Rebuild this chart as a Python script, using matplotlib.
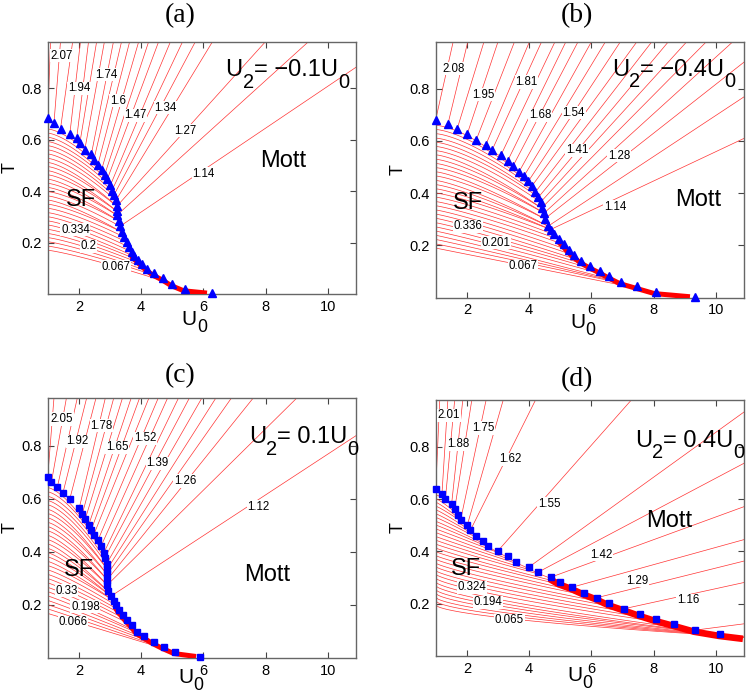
import numpy as np
import matplotlib
matplotlib.use("Agg")
import matplotlib.pyplot as plt
from matplotlib.transforms import offset_copy

plt.rcParams['font.family'] = ['Liberation Sans', 'DejaVu Sans']

XMAX = 10.9
TMAX = 0.98

# ---------------- (a)  U2 = -0.1 U0 ----------------
a_bnd_u = [1.0, 1.2, 1.41, 1.71, 1.93, 2.03, 2.19, 2.40, 2.48, 2.61, 2.73, 2.83, 2.91, 3.01, 3.06,
           3.12, 3.19, 3.22, 3.22, 3.22, 3.28, 3.32, 3.37, 3.44, 3.53, 3.60, 3.69, 3.76, 3.91, 4.03,
           4.19, 4.41, 4.71, 5.00, 5.40, 6.29]
a_bnd_t = [0.684, 0.665, 0.642, 0.622, 0.605, 0.586, 0.561, 0.542, 0.521, 0.502, 0.483, 0.464, 0.445,
           0.422, 0.402, 0.383, 0.364, 0.341, 0.322, 0.306, 0.284, 0.263, 0.241, 0.222, 0.202, 0.183,
           0.164, 0.147, 0.131, 0.116, 0.099, 0.080, 0.061, 0.039, 0.019, 0.003]
a_ray_from = [0, 1, 2, 3, 4, 5, 6, 7, 8, 9, 10, 11, 12, 13, 14, 15, 16, 17, 19, 21]
a_ray_top_u = [1.09, 1.41, 1.80, 2.05, 2.31, 2.57, 2.82, 3.11, 3.37, 3.63, 3.92, 4.24, 4.56, 4.94,
               5.33, 5.74, 6.29, 7.99, 9.37]
a_ray_side_t = [0.881]
a_sf_t0 = [0.641, 0.625, 0.609, 0.592, 0.576, 0.560, 0.544, 0.527, 0.511, 0.495, 0.479, 0.463, 0.446,
           0.430, 0.414, 0.398, 0.381, 0.365, 0.349, 0.333, 0.316, 0.300, 0.284, 0.268, 0.251, 0.235,
           0.219, 0.203, 0.186, 0.170]
a_sf_to = [7, 9, 11, 12, 13, 14, 15, 16, 17, 17, 18, 18, 19, 19, 20, 20, 21, 22, 22, 23, 24, 25, 26,
           27, 28, 29, 30, 31, 32, 33]
a_tail = (6.15, 0.010)
a_band = (26, 35)
a_lab_txt = ['2.07', '1.94', '1.74', '1.6', '1.47', '1.34', '1.27', '1.14', '0.334', '0.2', '0.067']
a_lab_u = [1.44, 2.0, 2.89, 3.25, 3.82, 4.78, 5.42, 6.01, 1.89, 2.30, 3.18]
a_lab_t = [0.925, 0.80, 0.852, 0.751, 0.695, 0.723, 0.635, 0.467, 0.25, 0.186, 0.106]

# ---------------- (b)  U2 = -0.4 U0 ----------------
b_bnd_u = [1.0, 1.39, 1.69, 2.01, 2.30, 2.60, 2.81, 3.09, 3.31, 3.49, 3.68, 3.83, 3.97, 4.08, 4.19,
           4.30, 4.37, 4.40, 4.48, 4.50, 4.61, 4.69, 4.79, 4.95, 5.11, 5.27, 5.45, 5.68, 5.96, 6.28,
           6.57, 6.95, 7.45, 8.06, 9.33]
b_bnd_t = [0.682, 0.664, 0.647, 0.626, 0.604, 0.583, 0.565, 0.545, 0.524, 0.506, 0.483, 0.465, 0.445,
           0.426, 0.403, 0.385, 0.366, 0.343, 0.324, 0.302, 0.274, 0.261, 0.242, 0.223, 0.204, 0.182,
           0.162, 0.140, 0.121, 0.102, 0.083, 0.060, 0.043, 0.022, 0.003]
b_ray_from = [0, 1, 2, 3, 4, 5, 6, 7, 8, 9, 10, 11, 12, 13, 14, 15, 16, 17, 18, 19, 20, 21]
b_ray_top_u = [1.56, 2.03, 2.55, 3.0, 3.53, 4.01, 4.40, 4.83, 5.18, 5.57, 6.0, 6.45, 6.93, 7.46,
               7.94, 8.47, 9.06, 9.69, 10.54]
b_ray_side_t = [0.902, 0.769, 0.61]
b_sf_t0 = [0.660, 0.644, 0.628, 0.611, 0.595, 0.579, 0.563, 0.547, 0.530, 0.514, 0.498, 0.482, 0.466,
           0.449, 0.433, 0.417, 0.401, 0.385, 0.368, 0.352, 0.336, 0.320, 0.304, 0.287, 0.271, 0.255,
           0.239, 0.223, 0.206, 0.190]
b_sf_to = [8, 10, 12, 13, 14, 15, 16, 17, 17, 18, 18, 19, 19, 20, 20, 21, 21, 22, 23, 24, 25, 26, 27,
           28, 29, 30, 31, 32, 32, 33]
b_tail = (9.2, 0.010)
b_band = (23, 34)
b_lab_txt = ['2.08', '1.95', '1.81', '1.68', '1.54', '1.41', '1.28', '1.14', '0.336', '0.201', '0.067']
b_lab_u = [1.59, 2.54, 3.91, 4.35, 5.43, 5.54, 6.89, 6.76, 2.03, 2.94, 3.79]
b_lab_t = [0.876, 0.777, 0.826, 0.699, 0.708, 0.565, 0.544, 0.347, 0.274, 0.21, 0.121]

# ---------------- (c)  U2 = 0.1 U0 ----------------
c_bnd_u = [1.0, 1.12, 1.31, 1.49, 1.71, 2.01, 2.11, 2.20, 2.32, 2.40, 2.48, 2.62, 2.71, 2.80, 2.83,
           2.89, 2.91, 2.91, 2.91, 2.91, 2.94, 3.03, 3.12, 3.20, 3.28, 3.42, 3.55, 3.71, 3.87, 4.08,
           4.40, 4.72, 5.09, 5.89]
c_bnd_t = [0.683, 0.664, 0.645, 0.623, 0.600, 0.564, 0.543, 0.522, 0.503, 0.484, 0.465, 0.446, 0.421,
           0.396, 0.377, 0.355, 0.335, 0.315, 0.295, 0.275, 0.251, 0.233, 0.216, 0.198, 0.181, 0.162,
           0.143, 0.124, 0.099, 0.084, 0.061, 0.042, 0.023, 0.004]
c_ray_from = [0, 1, 2, 3, 4, 5, 6, 7, 8, 9, 10, 11, 12, 13, 14, 15, 16, 17, 18, 19, 21]
c_ray_top_u = [1.2, 1.6, 1.95, 2.25, 2.55, 2.85, 3.12, 3.4, 3.68, 3.95, 4.25, 4.55, 4.85, 5.2, 5.55,
               5.95, 6.4, 6.9, 7.6, 9.0]
c_ray_side_t = [0.838]
c_sf_t0 = [0.642, 0.626, 0.609, 0.593, 0.577, 0.560, 0.544, 0.528, 0.511, 0.495, 0.479, 0.462, 0.446,
           0.430, 0.413, 0.397, 0.381, 0.364, 0.348, 0.332, 0.315, 0.299, 0.283, 0.266, 0.250, 0.234,
           0.217, 0.201, 0.185, 0.168]
c_sf_to = [10, 12, 13, 14, 15, 16, 16, 17, 17, 18, 18, 19, 19, 20, 20, 21, 21, 22, 22, 23, 24, 25, 26,
           27, 28, 29, 30, 31, 32, 32]
c_tail = (5.8, 0.012)
c_band = (23, 33)
c_lab_txt = ['2.05', '1.92', '1.78', '1.65', '1.52', '1.39', '1.26', '1.12', '0.33', '0.198', '0.066']
c_lab_u = [1.45, 1.95, 2.73, 3.23, 4.13, 4.53, 5.41, 7.76, 1.61, 2.21, 1.82]
c_lab_t = [0.901, 0.816, 0.876, 0.794, 0.828, 0.734, 0.667, 0.569, 0.254, 0.194, 0.134]

# ---------------- (d)  U2 = 0.4 U0 ----------------
d_bnd_u = [1.0, 1.20, 1.31, 1.51, 1.61, 1.71, 1.80, 2.01, 2.11, 2.30, 2.51, 2.69, 2.99, 3.31, 3.59,
           3.98, 4.28, 4.69, 4.98, 5.38, 5.77, 6.18, 6.57, 7.06, 7.56, 8.06, 8.65, 9.34, 10.14]
d_bnd_t = [0.638, 0.619, 0.600, 0.581, 0.563, 0.541, 0.521, 0.499, 0.480, 0.459, 0.440, 0.421, 0.401,
           0.381, 0.360, 0.339, 0.320, 0.301, 0.281, 0.263, 0.242, 0.223, 0.201, 0.181, 0.160, 0.141,
           0.122, 0.099, 0.083]
d_ray_from = [0, 1, 2, 3, 4, 6, 7, 8, 12, 15, 16, 17, 19, 21, 23, 27]
d_ray_top_u = [1.13, 1.39, 1.61, 1.87, 2.16, 2.62, 3.17, 4.21, 7.29]
d_ray_side_t = [0.933, 0.737, 0.571, 0.445, 0.363, 0.281, 0.123]
d_sf_t0 = [0.617, 0.602, 0.588, 0.573, 0.559, 0.544, 0.530, 0.515, 0.501, 0.486, 0.472, 0.457, 0.443,
           0.428, 0.413, 0.399, 0.384, 0.370, 0.355, 0.341, 0.326, 0.312, 0.297, 0.282, 0.268, 0.253,
           0.239, 0.224, 0.210, 0.195]
d_sf_to = [3, 5, 6, 7, 8, 9, 10, 11, 12, 13, 14, 15, 16, 17, 18, 19, 20, 21, 22, 23, 24, 25, 26, 27,
           28, 28, 29, 29, 29, 29]
d_tail = (10.9, 0.072)
d_band = (17, 29)
d_lab_txt = ['2.01', '1.88', '1.75', '1.62', '1.55', '1.42', '1.29', '1.16', '0.324', '0.194', '0.065']
d_lab_u = [1.43, 1.71, 2.54, 3.39, 4.64, 6.31, 7.47, 9.10, 2.15, 2.68, 3.37]
d_lab_t = [0.92, 0.809, 0.872, 0.752, 0.583, 0.387, 0.288, 0.213, 0.262, 0.205, 0.136]

LINE_RED = '#ff3333'


def sub_text(ax, x, y, parts, size, drop, transform=None, va='baseline'):
    """Write text with MATLAB-style big, low subscripts; parts = [(str, is_sub), ...]."""
    kw = {} if transform is None else {'transform': transform}
    t = ax.text(x, y, parts[0][0], fontsize=size, ha='left', va=va, zorder=6, **kw)
    prev_sub = parts[0][1]
    for s, is_sub in parts[1:]:
        if is_sub and not prev_sub:
            dy = -drop * size
        elif prev_sub and not is_sub:
            dy = drop * size
        else:
            dy = 0
        fs = size * 0.85 if is_sub else size
        t = ax.annotate(s, xy=(1, 0), xycoords=t, xytext=(0, dy), textcoords='offset points',
                        fontsize=fs, ha='left', va='bottom', zorder=6)
        prev_sub = is_sub
    return t


def draw_panel(fig, rect, bnd_u, bnd_t, ray_from, ray_top_u, ray_side_t, sf_t0, sf_to,
               tail, band, lab_txt, lab_u, lab_t, marker, ms, p_top, p_bot, band_lw):
    ax = fig.add_axes(rect)

    # SF contours: from the U0 = 1 edge into the phase boundary
    ends_u = list(bnd_u) + [tail[0]]
    ends_t = list(bnd_t) + [tail[1]]
    n = len(sf_t0)
    s = np.linspace(0, 1, 120)
    for i, (t0, k) in enumerate(zip(sf_t0, sf_to)):
        ue, te = ends_u[k], ends_t[k]
        p = p_top + (p_bot - p_top) * i / (n - 1)
        u = 1 + (ue - 1) * s
        t = t0 + (te - t0) * s ** p
        t = np.minimum(t, np.interp(u, bnd_u, bnd_t) - 0.004)
        ax.plot(u, t, color=LINE_RED, lw=0.5, zorder=2)

    # Mott contours: straight rays leaving the boundary
    ntop = len(ray_top_u)
    for k, u1 in zip(ray_from[:ntop], ray_top_u):
        ax.plot([bnd_u[k], u1], [bnd_t[k], TMAX], color=LINE_RED, lw=0.5, zorder=2)
    for k, t1 in zip(ray_from[ntop:], ray_side_t):
        ax.plot([bnd_u[k], XMAX], [bnd_t[k], t1], color=LINE_RED, lw=0.5, zorder=2)

    # piled-up contours along the lower boundary
    bu = list(bnd_u[band[0]:band[1]]) + [tail[0]]
    bt = list(bnd_t[band[0]:band[1]]) + [tail[1]]
    tr = offset_copy(ax.transData, fig=fig, x=-0.8, y=-1.2, units='points')
    ax.plot(bu, bt, color='red', lw=band_lw, transform=tr, zorder=3,
            solid_joinstyle='miter', solid_capstyle='butt')

    ax.plot(bnd_u, bnd_t, ls='none', marker=marker, color='#0000ff', ms=ms,
            mec='#0000ff', clip_on=False, zorder=5)

    for txt, u, t in zip(lab_txt, lab_u, lab_t):
        ax.text(u, t, txt, fontsize=8.3, ha='center', va='center', zorder=4,
                bbox=dict(fc='white', ec='none', pad=0.4))

    ax.set_xlim(1, XMAX)
    ax.set_ylim(0, TMAX)
    ax.set_xticks([2, 4, 6, 8, 10])
    ax.set_yticks([0.2, 0.4, 0.6, 0.8])
    ax.set_yticklabels(['0.2', '0.4', '0.6', '0.8'])
    ax.tick_params(direction='in', length=4, width=0.8, color='#444444', labelsize=10.5,
                   top=True, right=True, pad=4)
    for sp in ax.spines.values():
        sp.set_color('#666666')
        sp.set_linewidth(1.0)
    return ax


fig = plt.figure(figsize=(7.47, 6.96), dpi=100)

panels = [
    dict(rect=[0.0639, 0.5776, 0.4127, 0.3624], bnd_u=a_bnd_u, bnd_t=a_bnd_t, ray_from=a_ray_from,
         ray_top_u=a_ray_top_u, ray_side_t=a_ray_side_t, sf_t0=a_sf_t0, sf_to=a_sf_to, tail=a_tail,
         band=a_band, lab_txt=a_lab_txt, lab_u=a_lab_u, lab_t=a_lab_t, marker='^', ms=5.8,
         p_top=1.5, p_bot=1.2, band_lw=3.6),
    dict(rect=[0.5833, 0.5723, 0.4127, 0.3677], bnd_u=b_bnd_u, bnd_t=b_bnd_t, ray_from=b_ray_from,
         ray_top_u=b_ray_top_u, ray_side_t=b_ray_side_t, sf_t0=b_sf_t0, sf_to=b_sf_to, tail=b_tail,
         band=b_band, lab_txt=b_lab_txt, lab_u=b_lab_u, lab_t=b_lab_t, marker='^', ms=5.8,
         p_top=1.5, p_bot=1.0, band_lw=3.6),
    dict(rect=[0.0639, 0.0546, 0.4127, 0.3736], bnd_u=c_bnd_u, bnd_t=c_bnd_t, ray_from=c_ray_from,
         ray_top_u=c_ray_top_u, ray_side_t=c_ray_side_t, sf_t0=c_sf_t0, sf_to=c_sf_to, tail=c_tail,
         band=c_band, lab_txt=c_lab_txt, lab_u=c_lab_u, lab_t=c_lab_t, marker='s', ms=4.3,
         p_top=1.5, p_bot=1.0, band_lw=3.6),
    dict(rect=[0.5833, 0.0575, 0.4127, 0.3682], bnd_u=d_bnd_u, bnd_t=d_bnd_t, ray_from=d_ray_from,
         ray_top_u=d_ray_top_u, ray_side_t=d_ray_side_t, sf_t0=d_sf_t0, sf_to=d_sf_to, tail=d_tail,
         band=d_band, lab_txt=d_lab_txt, lab_u=d_lab_u, lab_t=d_lab_t, marker='s', ms=4.3,
         p_top=1.2, p_bot=0.6, band_lw=4.8),
]

titles = ['(a)', '(b)', '(c)', '(d)']
title_xy = [(0.241, 0.978), (0.7724, 0.978), (0.241, 0.46), (0.7724, 0.454)]
u2_value = ['\u22120.1', '\u22120.4', '0.1', '0.4']
u2_xy = [(6.71, 0.847), (6.66, 0.85), (7.47, 0.81), (7.40, 0.80)]
sf_xy = [(2.07, 0.364), (2.05, 0.362), (2.0, 0.33), (1.98, 0.333)]
mott_xy = [(8.56, 0.515), (9.44, 0.375), (8.05, 0.314), (8.5, 0.518)]
xlab_xy = [(0.435, -0.063), (0.436, -0.06), (0.423, -0.038), (0.426, -0.039)]

for i, kw in enumerate(panels):
    ax = draw_panel(fig, **kw)
    fig.text(title_xy[i][0], title_xy[i][1], titles[i], fontfamily='Liberation Serif',
             fontsize=20, ha='center', va='center')
    sub_text(ax, u2_xy[i][0], u2_xy[i][1],
             [('U', False), ('2', True), ('= ' + u2_value[i] + 'U', False), ('0', True)],
             size=17, drop=0.45)
    ax.text(sf_xy[i][0], sf_xy[i][1], 'SF', fontsize=17, ha='center', va='center', zorder=6)
    ax.text(mott_xy[i][0], mott_xy[i][1], 'Mott', fontsize=17, ha='center', va='center', zorder=6)
    sub_text(ax, xlab_xy[i][0], xlab_xy[i][1], [('U', False), ('0', True)], size=15, drop=0.35,
             transform=ax.transAxes, va='top')
    ax.set_ylabel('T', fontsize=13)
    ax.yaxis.set_label_coords(-0.095, 0.5)

fig.savefig('out.png', dpi=100)
